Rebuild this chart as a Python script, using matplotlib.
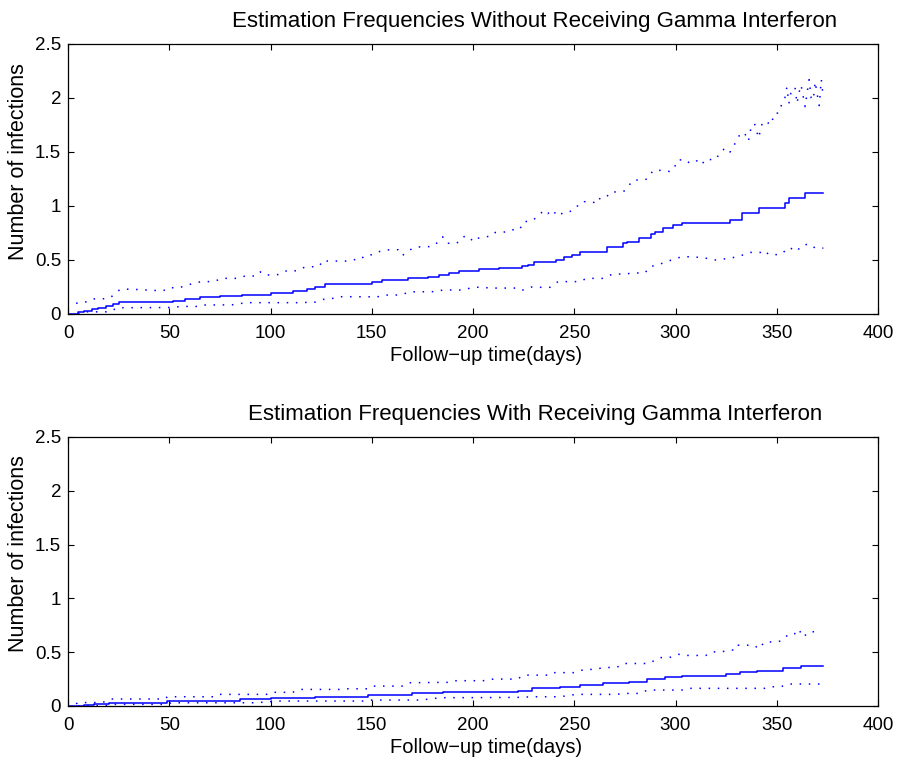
import matplotlib
matplotlib.use("Agg")
import matplotlib.pyplot as plt
import numpy as np

plt.rcParams['font.family'] = ['Liberation Sans', 'DejaVu Sans']

# ---- Data: top panel (without gamma interferon) ----
top_est_t = [0, 5, 8, 12, 15, 19, 22, 25, 52, 58, 65, 75, 86, 100, 111, 118, 122, 127, 150, 155,
             168, 178, 183, 188, 193, 203, 213, 224, 227, 230, 241, 245, 249, 253, 266, 274, 276,
             282, 288, 290, 294, 299, 303, 327, 333, 341, 354, 356, 364, 373]
top_est_v = [0, 0.015, 0.03, 0.045, 0.06, 0.076, 0.09, 0.112, 0.123, 0.14, 0.154, 0.165, 0.176,
             0.197, 0.213, 0.23, 0.253, 0.278, 0.30, 0.315, 0.33, 0.345, 0.361, 0.383, 0.398, 0.414,
             0.423, 0.44, 0.454, 0.485, 0.50, 0.525, 0.546, 0.577, 0.617, 0.654, 0.670, 0.70, 0.738,
             0.759, 0.793, 0.824, 0.846, 0.870, 0.932, 0.978, 1.03, 1.071, 1.123, 1.123]

top_up_t = [4, 8, 12, 17, 21, 23, 26, 30, 36, 40, 47, 50, 54, 58, 62, 66, 72, 76, 84, 88, 93, 95,
            97, 104, 108, 113, 117, 124, 126, 128, 137, 140, 144, 147, 151, 154, 157, 163, 165, 169,
            172, 180, 183, 185, 187, 192, 195, 198, 200, 202, 206, 209, 211, 215, 218, 223, 225, 229,
            232, 235, 237, 239, 242, 245, 248, 251, 253, 255, 259, 261, 263, 266, 268, 272, 275, 279,
            284, 286, 289, 294, 297, 299, 301, 305, 307, 310, 312, 314, 316, 320, 322, 325, 327, 329,
            332, 334, 336, 337, 339, 340, 341, 343, 345, 347, 349, 351, 352, 354, 355, 356, 357, 359,
            360, 361, 362, 364, 365, 366, 367, 368, 369, 370, 371, 372, 373]
top_up_v = [0.10, 0.105, 0.14, 0.14, 0.15, 0.19, 0.23, 0.23, 0.225, 0.22, 0.215, 0.245, 0.24, 0.26,
            0.285, 0.30, 0.30, 0.33, 0.33, 0.355, 0.35, 0.39, 0.36, 0.365, 0.40, 0.40, 0.435, 0.44,
            0.50, 0.49, 0.49, 0.505, 0.50, 0.545, 0.55, 0.58, 0.593, 0.595, 0.54, 0.595, 0.62, 0.625,
            0.67, 0.715, 0.655, 0.655, 0.715, 0.72, 0.67, 0.70, 0.715, 0.72, 0.755, 0.755, 0.78, 0.78,
            0.855, 0.86, 0.905, 0.96, 0.93, 0.965, 0.905, 0.945, 0.95, 1.0, 1.0, 1.04, 1.04, 1.02,
            1.08, 1.085, 1.13, 1.13, 1.14, 1.24, 1.24, 1.25, 1.33, 1.33, 1.32, 1.335, 1.425, 1.43,
            1.395, 1.41, 1.44, 1.395, 1.43, 1.43, 1.50, 1.54, 1.50, 1.565, 1.67, 1.68, 1.60, 1.70,
            1.765, 1.70, 1.63, 1.78, 1.78, 1.75, 1.86, 1.86, 1.92, 2.0, 2.1, 1.95, 2.05, 2.1, 1.95,
            2.05, 2.12, 1.92, 2.05, 2.17, 2.0, 1.98, 2.15, 2.03, 1.93, 2.17, 2.0]

top_lo_t = [5, 7, 21, 24, 51, 56, 65, 67, 81, 88, 114, 122, 126, 130, 133, 148, 152, 156, 164, 169,
            182, 185, 195, 200, 205, 208, 221, 224, 227, 230, 233, 238, 242, 253, 256, 264, 269, 276,
            278, 285, 287, 292, 298, 303, 308, 314, 320, 328, 334, 337, 342, 344, 346, 352, 356, 360,
            362, 366, 369, 373]
top_lo_v = [0.0, 0.02, 0.02, 0.058, 0.06, 0.07, 0.07, 0.083, 0.085, 0.105, 0.105, 0.11, 0.135, 0.14,
            0.16, 0.16, 0.155, 0.175, 0.176, 0.205, 0.207, 0.222, 0.222, 0.247, 0.248, 0.24, 0.24,
            0.217, 0.24, 0.255, 0.247, 0.247, 0.30, 0.30, 0.33, 0.33, 0.37, 0.37, 0.38, 0.38, 0.435,
            0.46, 0.50, 0.53, 0.53, 0.52, 0.50, 0.52, 0.55, 0.57, 0.57, 0.59, 0.55, 0.55, 0.617, 0.58,
            0.63, 0.65, 0.61, 0.61]

# ---- Data: bottom panel (with gamma interferon) ----
bot_est_t = [0, 4, 8, 13, 20, 49, 85, 100, 122, 148, 170, 185, 222, 229, 243, 253, 264, 277, 286,
             295, 303, 325, 332, 340, 353, 362, 373]
bot_est_v = [0, 0, 0.01, 0.02, 0.032, 0.049, 0.062, 0.071, 0.086, 0.102, 0.117, 0.13, 0.14, 0.164,
             0.179, 0.194, 0.21, 0.225, 0.25, 0.265, 0.281, 0.293, 0.318, 0.327, 0.355, 0.37, 0.37]

bot_up_t = [4, 5, 17, 21, 48, 49, 73, 75, 98, 100, 111, 114, 135, 137, 148, 150, 165, 168, 188, 191,
            205, 210, 222, 225, 238, 240, 250, 255, 261, 264, 271, 274, 287, 292, 297, 301, 303, 305,
            315, 318, 323, 326, 330, 331, 339, 341, 344, 350, 353, 356, 360, 361, 363, 366, 372]
bot_up_v = [0.02, 0.032, 0.032, 0.065, 0.065, 0.086, 0.086, 0.108, 0.108, 0.127, 0.127, 0.154,
            0.154, 0.16, 0.16, 0.185, 0.185, 0.216, 0.22, 0.235, 0.235, 0.25, 0.25, 0.287, 0.287,
            0.31, 0.31, 0.34, 0.34, 0.358, 0.358, 0.395, 0.395, 0.45, 0.45, 0.48, 0.48, 0.47, 0.47,
            0.503, 0.503, 0.52, 0.52, 0.565, 0.565, 0.53, 0.595, 0.595, 0.61, 0.673, 0.673, 0.71,
            0.64, 0.69, 0.69]

bot_lo_t = [5, 20, 22, 49, 51, 93, 103, 146, 150, 174, 184, 203, 222, 230, 243, 251, 271, 274, 283,
            286, 303, 307, 344, 347, 352, 356, 372]
bot_lo_v = [0.0, 0.005, 0.015, 0.015, 0.03, 0.03, 0.046, 0.046, 0.055, 0.055, 0.077, 0.078, 0.08,
            0.086, 0.086, 0.108, 0.108, 0.117, 0.117, 0.148, 0.148, 0.164, 0.164, 0.179, 0.179,
            0.204, 0.204]

titles = ["Estimation Frequencies Without Receiving Gamma Interferon",
          "Estimation Frequencies With Receiving Gamma Interferon"]
xlabel = "Follow\u2212up time(days)"
ylabel = "Number of infections"
xticks = [0, 50, 100, 150, 200, 250, 300, 350, 400]
yticks = [0, 0.5, 1, 1.5, 2, 2.5]
ytick_labels = ["0", "0.5", "1", "1.5", "2", "2.5"]

fig = plt.figure(figsize=(8.99, 7.62), dpi=100)
ax1 = fig.add_axes([68/899, 1-314/762, 810/899, 270/762])
ax2 = fig.add_axes([68/899, 1-706/762, 810/899, 269/762])

panels = [
    (ax1, top_est_t, top_est_v, top_up_t, top_up_v, top_lo_t, top_lo_v, titles[0]),
    (ax2, bot_est_t, bot_est_v, bot_up_t, bot_up_v, bot_lo_t, bot_lo_v, titles[1]),
]

for ax, et, ev, ut, uv, lt, lv, title in panels:
    ax.plot(et, ev, color='blue', lw=1.1, drawstyle='steps-post')
    ax.plot(ut, uv, color='blue', lw=1.1, linestyle=(0, (1, 5)))
    ax.plot(lt, lv, color='blue', lw=1.1, linestyle=(0, (1, 5)))
    ax.set_xlim(0, 400)
    ax.set_ylim(0, 2.5)
    ax.set_xticks(xticks)
    ax.set_xticklabels([str(x) for x in xticks])
    ax.set_yticks(yticks)
    ax.set_yticklabels(ytick_labels)
    ax.tick_params(direction='in', top=True, right=True, length=4.5, width=0.8,
                   labelsize=13.5)
    ax.tick_params(axis='x', pad=8)
    ax.tick_params(axis='y', pad=5)
    for s in ax.spines.values():
        s.set_linewidth(0.9)
    ax.set_title(title, fontsize=16, pad=12, x=0.5765)
    ax.set_xlabel(xlabel, fontsize=14.5, labelpad=3, x=0.516)
    ax.set_ylabel(ylabel, fontsize=15.5, labelpad=4, y=0.566)

fig.savefig("out.png", dpi=100)
